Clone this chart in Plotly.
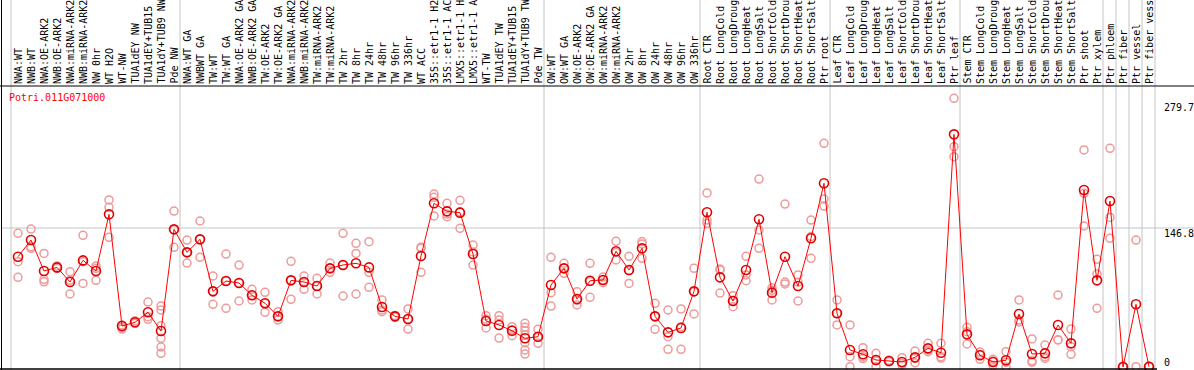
import plotly.graph_objects as go

gene = "Potri.011G071000"

categories = [
    "NWA:WT", "NWB:WT", "NWA:OE-ARK2", "NWB:OE-ARK2", "NWA:miRNA-ARK2", "NWB:miRNA-ARK2",
    "NW 0hr", "WT H2O", "WT-NW", "TUA1dEY NW", "TUA1dEY+TUB15", "TUA1dY+TUB9 NW", "Pde NW",
    "NWA:WT GA", "NWBWT GA", "TW:WT", "TW:WT GA", "NWA:OE-ARK2 GA", "NWB:OE-ARK2 GA",
    "TW:OE-ARK2", "TW:OE-ARK2 GA", "NWA:miRNA-ARK2", "NWB:miRNA-ARK2", "TW:miRNA-ARK2",
    "TW:miRNA-ARK2", "TW 2hr", "TW 8hr", "TW 24hr", "TW 48hr", "TW 96hr", "TW 336hr",
    "WT ACC", "35S::etr1-1 H2", "35S::etr1-1 AC", "LMX5::etr1-1 H", "LMX5::etr1-1 A",
    "WT-TW", "TUA1dEY TW", "TUA1dEY+TUB15", "TUA1dY+TUB9 TW", "Pde TW",
    "OW:WT", "OW:WT GA", "OW:OE-ARK2", "OW:OE-ARK2 GA", "OW:miRNA-ARK2", "OW:miRNA-ARK2",
    "OW 2hr", "OW 8hr", "OW 24hr", "OW 48hr", "OW 96hr", "OW 336hr",
    "Root CTR", "Root LongCold", "Root LongDroug", "Root LongHeat", "Root LongSalt",
    "Root ShortCold", "Root ShortDrou", "Root ShortHeat", "Root ShortSalt", "Ptr root",
    "Leaf CTR", "Leaf LongCold", "Leaf LongDroug", "Leaf LongHeat", "Leaf LongSalt",
    "Leaf ShortCold", "Leaf ShortDrou", "Leaf ShortHeat", "Leaf ShortSalt", "Ptr leaf",
    "Stem CTR", "Stem LongCold", "Stem LongDroug", "Stem LongHeat", "Stem LongSalt",
    "Stem ShortCold", "Stem ShortDrou", "Stem ShortHeat", "Stem ShortSalt", "Ptr shoot",
    "Ptr xylem", "Ptr phloem", "Ptr fiber", "Ptr vessel", "Ptr fiber vess",
]

means = [
    116.5, 134.1, 101.4, 105.2, 89.8, 112.6, 101.4, 161.2, 43.3, 47.2, 57.8, 38.0, 145.4,
    121.1, 134.8, 79.9, 90.8, 88.7, 75.7, 67.3, 53.5, 91.5, 89.8, 85.5, 104.2, 107.7,
    109.5, 105.2, 63.4, 53.5, 50.7, 117.2, 172.9, 164.4, 163.0, 119.3, 48.6, 44.4, 38.3,
    30.3, 32.0,
    86.6, 104.2, 71.8, 91.1, 91.9, 122.2, 102.4, 125.3, 53.5, 36.6, 41.2, 79.9,
    163.4, 94.7, 69.7, 102.4, 156.0, 78.5, 116.5, 85.5, 135.9, 194.0,
    56.7, 18.0, 13.4, 7.4, 6.3, 5.3, 10.2, 19.7, 15.1, 245.7,
    34.5, 12.4, 5.3, 7.1, 56.0, 13.7, 14.4, 44.4, 25.0, 186.9, 91.5,
    175.3, 0.0, 66.2, 0.3,
]

replicates = [
    [141.2, 111.2, 94.7], [145.7, 127.0, 125.3], [120.0, 92.6, 90.0], [106.7, 104.2, 105.0],
    [100.7, 91.5, 77.1], [139.1, 111.2, 88.3], [106.7, 104.2, 91.5], [176.4, 168.6, 137.0],
    [44.4, 41.9, 40.1], [48.9, 46.1, 47.0], [68.6, 53.1, 50.4],
    [64.4, 60.2, 43.6, 30.3, 21.1, 14.4], [164.7, 145.0, 126.4],
    [134.1, 121.0, 109.8], [154.2, 134.8, 115.8], [96.1, 79.9, 66.2], [119.3, 90.8, 62.0],
    [107.7, 88.7, 69.7], [82.0, 75.7, 70.8], [78.9, 67.3, 57.8], [58.4, 53.5, 49.6],
    [111.6, 91.5, 71.5], [96.1, 89.8, 82.0], [93.7, 85.5, 77.1], [109.8, 104.2, 100.0],
    [141.2, 107.7, 75.0], [130.6, 120.0, 77.1], [132.3, 100.0, 84.1], [70.8, 60.2, 58.4],
    [54.5, 53.5, 52.5], [61.3, 50.7, 40.1], [126.5, 125.3, 100.0], [182.7, 179.2, 159.5],
    [172.9, 161.5, 158.7], [176.0, 164.0, 146.5], [128.8, 121.5, 107.7], [54.2, 50.5, 41.2],
    [54.2, 49.6, 30.6], [42.6, 39.3, 33.1], [46.1, 41.9, 38.3, 33.8, 25.7, 18.0, 13.7],
    [39.8, 31.2, 25.0],
    [115.8, 78.5, 64.4], [109.5, 104.2, 98.9], [79.5, 70.4, 65.5], [109.5, 90.2, 73.6],
    [95.0, 91.9, 89.0], [132.7, 121.0, 113.0], [116.9, 102.0, 88.3], [132.3, 129.9, 114.8],
    [67.3, 53.5, 39.8], [60.2, 32.0, 18.7], [61.3, 42.6, 18.7], [104.2, 79.5, 56.0],
    [183.8, 155.2, 151.8], [103.5, 102.5, 78.1], [75.3, 70.1, 63.7], [116.9, 97.2, 91.1],
    [198.5, 144.7, 125.3], [83.7, 81.0, 70.8], [172.1, 89.7, 87.7], [97.2, 89.6, 69.7],
    [155.2, 137.7, 114.8], [236.2, 177.4, 170.0],
    [70.8, 56.7, 44.4], [44.4, 10.9, 0.3], [20.4, 10.9, 8.9], [14.4, 7.5, 0.3],
    [7.0, 6.3, 5.6], [9.8, 3.9, 2.2], [16.9, 9.2, 4.5], [25.0, 17.9, 16.2],
    [25.0, 10.9, 9.4], [283.8, 232.7, 222.1],
    [41.9, 37.3, 24.3], [15.8, 13.3, 8.1], [8.1, 6.0, 1.8], [16.2, 5.0, 0.0],
    [70.8, 49.6, 47.6], [29.6, 6.5, 5.0], [23.2, 10.9, 9.1], [76.0, 28.8, 28.5],
    [40.1, 21.5, 13.4], [229.2, 183.4, 148.9], [113.7, 98.2, 62.0],
    [231.0, 158.0, 135.9], [1.0, 0.0, 0.0], [134.1, 0.3], [1.0, 0.3, 0.0],
]

# group separators: a vertical line after this many categories
group_ends = [0, 13, 41, 53, 63, 73, 84, 85, 86, 87, 88]

tick_values = [279.7, 146.8, 0]
tick_labels = ["279.7", "146.8", "0"]

W, H = 1194, 370
FONT = "DejaVu Sans Mono"

n = len(categories)
xs = list(range(n))

rep_x, rep_y = [], []
for i, reps in enumerate(replicates):
    for v in reps:
        rep_x.append(i)
        rep_y.append(v)

fig = go.Figure()
fig.add_trace(go.Scatter(
    x=rep_x, y=rep_y, mode="markers", hoverinfo="skip",
    marker=dict(symbol="circle-open", size=8, color="#ef9a9a", line=dict(width=1.5, color="#ef9a9a")),
))
fig.add_trace(go.Scatter(
    x=xs, y=means, mode="lines+markers", hoverinfo="skip",
    line=dict(color="#ff0000", width=1),
    marker=dict(symbol="circle-open", size=9, color="#e00000", line=dict(width=1.6, color="#e00000")),
))

# axis ranges: category i sits at pixel 18 + 13*i; value 0 at pixel 367, 146.8 at pixel 228
px_per_cat = 13.0
x0 = -18.0 / px_per_cat
x1 = x0 + W / px_per_cat
px_per_unit = (367 - 228) / 146.8
y1 = 367 / px_per_unit
y0 = -(H - 367) / px_per_unit

def ypaper(pix):
    return (H - pix) / H

shapes = []
# vertical group lines (full height)
for k in group_ends:
    xv = k - 1 + 6.0 / px_per_cat
    shapes.append(dict(type="line", xref="x", yref="paper", x0=xv, x1=xv, y0=0, y1=1,
                       line=dict(color="#c4c4c4", width=1), layer="below"))
# horizontal grid line at middle tick
shapes.append(dict(type="line", xref="paper", yref="y", x0=1 / W, x1=1, y0=tick_values[1], y1=tick_values[1],
                   line=dict(color="#c4c4c4", width=1), layer="below"))
# borders
shapes.append(dict(type="line", xref="paper", yref="paper", x0=0, x1=1, y0=ypaper(86), y1=ypaper(86),
                   line=dict(color="black", width=1)))
shapes.append(dict(type="line", xref="paper", yref="paper", x0=1.5 / W, x1=1.5 / W, y0=0, y1=1,
                   line=dict(color="black", width=1)))
shapes.append(dict(type="line", xref="paper", yref="paper", x0=0, x1=1157 / W, y0=ypaper(369), y1=ypaper(369),
                   line=dict(color="black", width=1.5)))

annotations = []
for i, lab in enumerate(categories):
    annotations.append(dict(
        x=i, y=ypaper(85), xref="x", yref="paper", text=lab, showarrow=False,
        textangle=-90, xanchor="center", yanchor="bottom", xshift=0,
        font=dict(family=FONT, size=10, color="black"), borderpad=0,
    ))

annotations.append(dict(
    x=8 / W, y=ypaper(97), xref="paper", yref="paper", text=gene, showarrow=False,
    xanchor="left", yanchor="middle", font=dict(family=FONT, size=10, color="#ff0000"), borderpad=0,
))

for v, lab in zip(tick_values, tick_labels):
    shift = 5 if v == 0 else -5
    annotations.append(dict(
        x=1163 / W, y=v, xref="paper", yref="y", text=lab, showarrow=False,
        xanchor="left", yanchor="middle", yshift=shift,
        font=dict(family=FONT, size=10, color="black"), borderpad=0,
    ))

fig.update_layout(
    width=W, height=H, margin=dict(l=0, r=0, t=0, b=0),
    paper_bgcolor="white", plot_bgcolor="white", showlegend=False,
    xaxis=dict(range=[x0, x1], visible=False, fixedrange=True),
    yaxis=dict(range=[y0, y1], visible=False, fixedrange=True),
    shapes=shapes, annotations=annotations,
)

fig.write_html(
    "out.html",
    config={"displayModeBar": False},
    post_script="document.body.style.margin='0';document.body.style.padding='0';document.body.style.overflow='hidden';",
)
